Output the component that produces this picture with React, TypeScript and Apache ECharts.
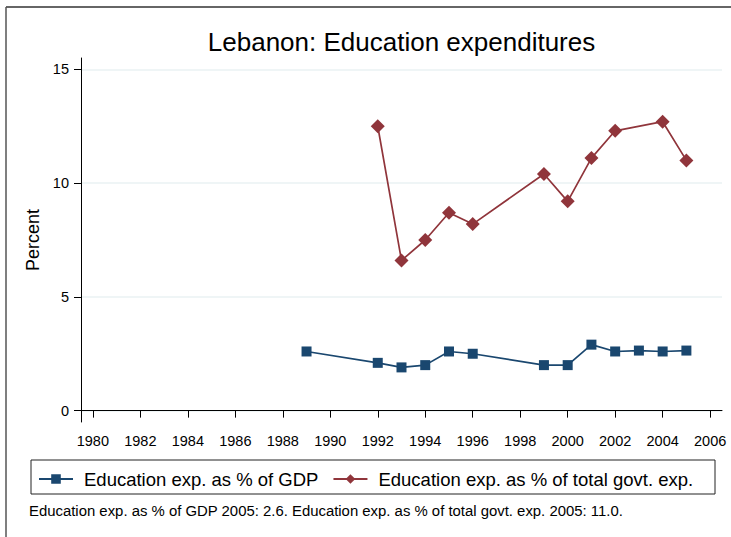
import React, { useEffect, useRef } from "react";
import * as echarts from "echarts";

const gdpYears = [1989, 1992, 1993, 1994, 1995, 1996, 1999, 2000, 2001, 2002, 2003, 2004, 2005];
const gdpValues = [2.6, 2.1, 1.9, 2.0, 2.6, 2.5, 2.0, 2.0, 2.9, 2.6, 2.64, 2.6, 2.64];
const govYears = [1992, 1993, 1994, 1995, 1996, 1999, 2000, 2001, 2002, 2004, 2005];
const govValues = [12.5, 6.6, 7.5, 8.7, 8.2, 10.4, 9.2, 11.1, 12.3, 12.7, 11.0];
const xTicks = [1980, 1982, 1984, 1986, 1988, 1990, 1992, 1994, 1996, 1998, 2000, 2002, 2004, 2006];
const yTicks = [0, 5, 10, 15];

const seriesNames = ["Education exp. as % of GDP", "Education exp. as % of total govt. exp."];
const titleText = "Lebanon: Education expenditures";
const noteText = "Education exp. as % of GDP 2005: 2.6. Education exp. as % of total govt. exp. 2005: 11.0.";

const FONT = "'Liberation Sans', Arial, Helvetica, sans-serif";
const NAVY = "#1a476f";
const MAROON = "#90353b";

export default function App() {
  const ref = useRef<HTMLDivElement>(null);
  useEffect(() => {
    document.body.style.margin = "0";
    if (!ref.current) return;
    const chart = echarts.init(ref.current, undefined, { renderer: "svg" });
    chart.setOption({
      animation: false,
      backgroundColor: "#ffffff",
      textStyle: { fontFamily: FONT },
      grid: { left: 81, top: 58, right: 9, bottom: 115 },
      xAxis: {
        type: "value",
        min: 1979.5,
        max: 2006.5,
        axisLine: { show: true, lineStyle: { color: "#000", width: 1 } },
        axisTick: { show: true, length: 7, customValues: xTicks, lineStyle: { color: "#000" } },
        axisLabel: {
          customValues: xTicks,
          formatter: (v: number) => String(v),
          color: "#000",
          fontSize: 14.5,
          fontFamily: FONT,
          margin: 11,
        },
        splitLine: { show: false },
      },
      yAxis: {
        type: "value",
        min: -0.5,
        max: 15.5,
        name: "Percent",
        nameLocation: "middle",
        nameGap: 36,
        nameTextStyle: { fontSize: 18, color: "#000", fontFamily: FONT },
        axisLine: { show: true, lineStyle: { color: "#000", width: 1 } },
        axisTick: { show: true, length: 7, customValues: yTicks, lineStyle: { color: "#000" } },
        axisLabel: {
          customValues: yTicks,
          formatter: (v: number) => String(v),
          color: "#000",
          fontSize: 14.5,
          fontFamily: FONT,
          margin: 12,
        },
        splitLine: { show: true, lineStyle: { color: "#eaf2f3", width: 1.5 } },
      },
      legend: {
        left: 38,
        top: 468,
        padding: 0,
        itemWidth: 34,
        itemHeight: 12,
        itemGap: 14,
        textStyle: { fontSize: 18.5, color: "#000", fontFamily: FONT, lineHeight: 22, padding: [0, 0, 0, 6] },
        data: seriesNames,
      },
      series: [
        {
          name: seriesNames[0],
          type: "line",
          data: gdpYears.map((y, i) => [y, gdpValues[i]]),
          symbol: "rect",
          symbolSize: 10,
          itemStyle: { color: NAVY },
          lineStyle: { color: NAVY, width: 1.7 },
        },
        {
          name: seriesNames[1],
          type: "line",
          data: govYears.map((y, i) => [y, govValues[i]]),
          symbol: "diamond",
          symbolSize: 14,
          itemStyle: { color: MAROON },
          lineStyle: { color: MAROON, width: 1.7 },
        },
      ],
      graphic: [
        { type: "line", shape: { x1: 6, y1: 7, x2: 731, y2: 7 }, style: { stroke: "#333", lineWidth: 1.5 } },
        { type: "line", shape: { x1: 6, y1: 7, x2: 6, y2: 537 }, style: { stroke: "#555", lineWidth: 1.5 } },
        {
          type: "text",
          x: 401.5,
          y: 41.5,
          style: { text: titleText, fontSize: 26, fontFamily: FONT, fill: "#000", align: "center", verticalAlign: "middle" },
        },
        {
          type: "rect",
          shape: { x: 31, y: 460, width: 684, height: 34 },
          style: { fill: "none", stroke: "#222", lineWidth: 1 },
        },
        {
          type: "text",
          x: 29,
          y: 511,
          style: { text: noteText, fontSize: 14.9, fontFamily: FONT, fill: "#000", align: "left", verticalAlign: "middle" },
        },
      ],
    });
    return () => chart.dispose();
  }, []);
  return <div ref={ref} style={{ width: 731, height: 537 }} />;
}
